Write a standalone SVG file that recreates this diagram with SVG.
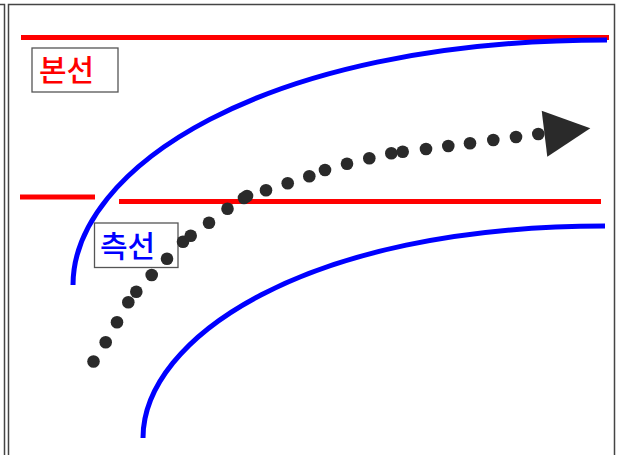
<svg xmlns="http://www.w3.org/2000/svg" width="618" height="455" viewBox="0 0 618 455">
<style>
.frame{fill:none;stroke:#444;stroke-width:1.5}
.red{fill:none;stroke:#ff0000;stroke-width:5}
.blue{fill:none;stroke:#0000ff;stroke-width:5}
.box{fill:#ffffff;stroke:#555;stroke-width:1.3}
.lbl{font-family:"Noto Sans CJK KR","Noto Sans CJK SC",sans-serif;font-size:30px;font-weight:500}
.dot{fill:#2a2a2a}
</style>
<rect width="618" height="455" fill="#ffffff"/>
<g id="frame">
<path class="frame" d="M0,4.5 H4.5 V455"/>
<path class="frame" d="M8.5,455 V4.5 H614.5 V455"/>
</g>
<g id="tracks">
<line class="red" x1="21" y1="37.5" x2="609" y2="37.5"/>
<line class="red" x1="20" y1="197" x2="95" y2="197"/>
<line class="red" x1="119" y1="201.5" x2="601" y2="201.5"/>
<path class="blue" d="M73,285 C73,170 260,40 607,40"/>
<path class="blue" d="M143,438 C143,338.6 304.7,226 605,226"/>
</g>
<g id="node-main">
<rect class="box" x="32" y="48" width="86" height="44"/>
<text class="lbl" x="39" y="81" fill="#ff0000">본선</text>
</g>
<g id="node-side">
<rect class="box" x="94.5" y="223" width="83.5" height="44.5"/>
<text class="lbl" x="100" y="257" fill="#0000ff">측선</text>
</g>
<g id="connectors">
<g class="dot">
<circle cx="93.5" cy="361.5" r="6.3"/>
<circle cx="105.7" cy="342.3" r="6.3"/>
<circle cx="117" cy="322.3" r="6.3"/>
<circle cx="128.3" cy="302.3" r="6.3"/>
<circle cx="136.3" cy="291.7" r="6.3"/>
<circle cx="151.7" cy="275" r="6.3"/>
<circle cx="167" cy="258.7" r="6.3"/>
<circle cx="183" cy="241.7" r="6.3"/>
<circle cx="190.7" cy="235.7" r="6.3"/>
<circle cx="209" cy="222.7" r="6.3"/>
<circle cx="227.5" cy="208.8" r="6.3"/>
<circle cx="244" cy="198" r="6.3"/>
<circle cx="247" cy="196" r="6.3"/>
<circle cx="266" cy="190.3" r="6.3"/>
<circle cx="287.7" cy="183.3" r="6.3"/>
<circle cx="309.3" cy="176.3" r="6.3"/>
<circle cx="325" cy="170" r="6.3"/>
<circle cx="347" cy="163.7" r="6.3"/>
<circle cx="369.3" cy="158.3" r="6.3"/>
<circle cx="391.3" cy="153.3" r="6.3"/>
<circle cx="402.7" cy="151.7" r="6.3"/>
<circle cx="426" cy="149" r="6.3"/>
<circle cx="448.3" cy="146" r="6.3"/>
<circle cx="470" cy="143.2" r="6.3"/>
<circle cx="493.3" cy="140" r="6.3"/>
<circle cx="516" cy="137" r="6.3"/>
<circle cx="538.3" cy="134" r="6.3"/>
</g>
<polygon class="dot" points="541.7,110.7 590.3,128.3 547.3,156.7"/>
</g>
</svg>
